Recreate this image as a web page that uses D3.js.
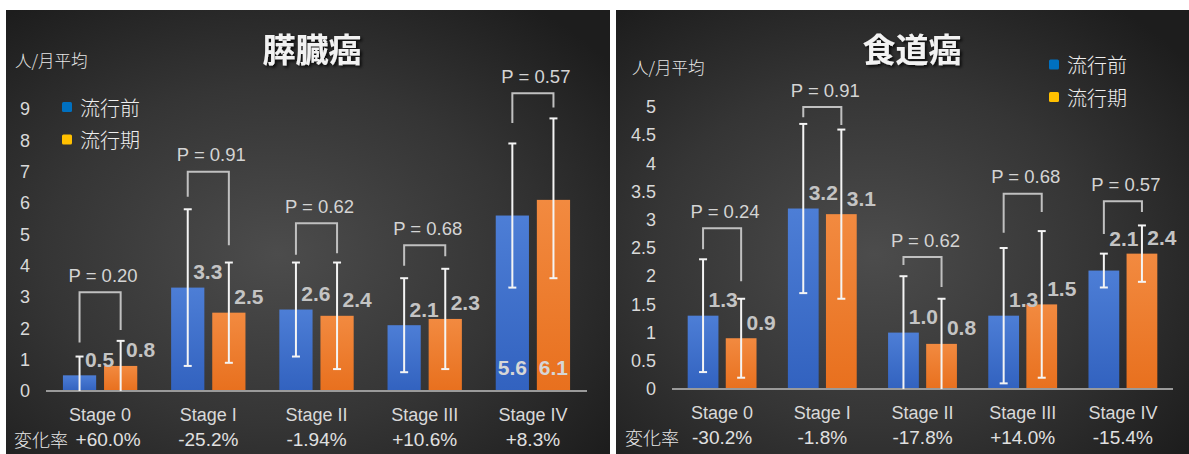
<!DOCTYPE html>
<html>
<head>
<meta charset="utf-8">
<script src="https://cdn.jsdelivr.net/npm/d3@7"></script>
<style>
  html, body { margin: 0; padding: 0; background: #ffffff; }
  svg { display: block; }
  .lat { font-family: "Liberation Sans", Arial, sans-serif; }
  .cjk { font-family: "Noto Sans CJK JP", "Noto Sans", sans-serif; }
</style>
</head>
<body>
<svg id="chart" width="1189" height="454"></svg>
<script>
// ---------- data ----------
const stages = ["Stage 0", "Stage I", "Stage II", "Stage III", "Stage IV"];
const seriesNames = ["流行前", "流行期"];
const legendColors = ["#0070C0", "#FFC000"];

// 膵臓癌
const pancTitle = "膵臓癌";
const pancBefore = [0.5, 3.3, 2.6, 2.1, 5.6];
const pancDuring = [0.8, 2.5, 2.4, 2.3, 6.1];
const pancBeforeLow = [0, 0.8, 1.1, 0.6, 3.3];
const pancBeforeHigh = [1.1, 5.8, 4.1, 3.6, 7.9];
const pancDuringLow = [0, 0.9, 0.7, 0.7, 3.6];
const pancDuringHigh = [1.6, 4.1, 4.1, 3.9, 8.7];
const pancP = ["0.20", "0.91", "0.62", "0.68", "0.57"];
const pancBracketTop = [3.15, 7.0, 5.35, 4.65, 9.5];
const pancBracketLeftEnd = [1.55, 6.2, 4.35, 4.0, 8.55];
const pancBracketRightEnd = [1.95, 4.65, 4.4, 4.3, 9.05];
const pancChange = ["+60.0%", "-25.2%", "-1.94%", "+10.6%", "+8.3%"];
const pancLabelInBase = [false, false, false, false, true];
const pancBeforeLabelLift = [0, 0, 0, 0, 0];
const pancTicks = [0, 1, 2, 3, 4, 5, 6, 7, 8, 9];

// 食道癌
const esoTitle = "食道癌";
const esoBefore = [1.3, 3.2, 1.0, 1.3, 2.1];
const esoDuring = [0.9, 3.1, 0.8, 1.5, 2.4];
const esoBeforeLow = [0.3, 1.7, 0, 0.1, 1.8];
const esoBeforeHigh = [2.3, 4.7, 2.0, 2.5, 2.4];
const esoDuringLow = [0.2, 1.6, 0, 0.2, 1.9];
const esoDuringHigh = [1.6, 4.6, 1.6, 2.8, 2.9];
const esoP = ["0.24", "0.91", "0.62", "0.68", "0.57"];
const esoBracketTop = [2.85, 5.0, 2.34, 3.46, 3.33];
const esoBracketLeftEnd = [2.48, 4.82, 2.2, 2.77, 2.75];
const esoBracketRightEnd = [1.91, 4.68, 1.81, 3.14, 3.14];
const esoChange = ["-30.2%", "-1.8%", "-17.8%", "+14.0%", "-15.4%"];
const esoLabelInBase = [false, false, false, false, false];
const esoBeforeLabelLift = [0, 0, 0, 0, 0.28];
const esoTicks = [0, 0.5, 1, 1.5, 2, 2.5, 3, 3.5, 4, 4.5, 5];

const unitLabel = "人/月平均";
const changeLabel = "変化率";

// ---------- layout ----------
const panels = [
  {
    title: pancTitle, before: pancBefore, during: pancDuring,
    bLow: pancBeforeLow, bHigh: pancBeforeHigh, dLow: pancDuringLow, dHigh: pancDuringHigh,
    p: pancP, brTop: pancBracketTop, brL: pancBracketLeftEnd, brR: pancBracketRightEnd,
    change: pancChange, inBase: pancLabelInBase, lift: pancBeforeLabelLift, ticks: pancTicks, yMax: 9,
    box: [6, 10, 604, 444], plotX: [46, 587], yRange: [391, 109],
    titleX: 312, titleY: 48, unitX: 15, unitY: 60,
    legX: 62, legY: 107, changeX: 14, firstChangeShift: 8
  },
  {
    title: esoTitle, before: esoBefore, during: esoDuring,
    bLow: esoBeforeLow, bHigh: esoBeforeHigh, dLow: esoDuringLow, dHigh: esoDuringHigh,
    p: esoP, brTop: esoBracketTop, brL: esoBracketLeftEnd, brR: esoBracketRightEnd,
    change: esoChange, inBase: esoLabelInBase, lift: esoBeforeLabelLift, ticks: esoTicks, yMax: 5,
    box: [616, 10, 573, 444], plotX: [672, 1173], yRange: [389, 107],
    titleX: 912, titleY: 48, unitX: 632, unitY: 67,
    legX: 1049, legY: 64.5, changeX: 625, firstChangeShift: 0
  }
];

const svg = d3.select("#chart");
const defs = svg.append("defs");

// backgrounds
const bg = defs.append("radialGradient").attr("id", "bgGrad")
  .attr("cx", "45%").attr("cy", "55%").attr("r", "70%");
bg.append("stop").attr("offset", "0%").attr("stop-color", "#4c4c4c");
bg.append("stop").attr("offset", "55%").attr("stop-color", "#353535");
bg.append("stop").attr("offset", "100%").attr("stop-color", "#1d1d1d");

const gB = defs.append("linearGradient").attr("id", "gBlue").attr("x1", 0).attr("y1", 0).attr("x2", 0).attr("y2", 1);
gB.append("stop").attr("offset", "0%").attr("stop-color", "#4d7ed6");
gB.append("stop").attr("offset", "100%").attr("stop-color", "#3262bf");
const gO = defs.append("linearGradient").attr("id", "gOrange").attr("x1", 0).attr("y1", 0).attr("x2", 0).attr("y2", 1);
gO.append("stop").attr("offset", "0%").attr("stop-color", "#f28a40");
gO.append("stop").attr("offset", "100%").attr("stop-color", "#e8701e");

const shadow = defs.append("filter").attr("id", "tshadow").attr("x", "-20%").attr("y", "-20%").attr("width", "140%").attr("height", "140%");
shadow.append("feDropShadow").attr("dx", 2).attr("dy", 2).attr("stdDeviation", 1.5)
  .attr("flood-color", "#000").attr("flood-opacity", 0.8);

const fills = ["url(#gBlue)", "url(#gOrange)"];

panels.forEach(P => {
  const g = svg.append("g");
  g.append("rect").attr("x", P.box[0]).attr("y", P.box[1]).attr("width", P.box[2]).attr("height", P.box[3])
    .attr("fill", "url(#bgGrad)");

  const x = d3.scaleBand().domain(stages).range(P.plotX).paddingInner(0).paddingOuter(0);
  const y = d3.scaleLinear().domain([0, P.yMax]).range(P.yRange);
  const bw = x.bandwidth();
  const barW = bw * 0.307, gap = bw * 0.073;
  const x1 = d3.scaleBand().domain([0, 1]).range([-(barW + gap / 2), barW + gap / 2]).paddingInner(gap / (barW + gap));
  const cx = s => x(s) + bw / 2;

  // title
  g.append("text").attr("class", "cjk").attr("x", P.titleX).attr("y", P.titleY)
    .attr("text-anchor", "middle").attr("dominant-baseline", "central")
    .attr("font-size", 33).attr("font-weight", 700).attr("fill", "#f2f2f2")
    .attr("filter", "url(#tshadow)").text(P.title);

  // unit label
  g.append("text").attr("class", "cjk").attr("x", P.unitX).attr("y", P.unitY)
    .attr("dominant-baseline", "central").attr("font-size", 16.5).attr("font-weight", 300)
    .attr("fill", "#e6e6e6").text(unitLabel);

  // y axis
  const yAxis = d3.axisLeft(y).tickValues(P.ticks).tickSize(0).tickPadding(16).tickFormat(d => String(d));
  const ga = g.append("g").attr("transform", `translate(${P.plotX[0]},0)`).call(yAxis);
  ga.select(".domain").remove();
  ga.selectAll("text").attr("class", "lat").attr("font-size", 18).attr("fill", "#d9d9d9");

  // bars
  const rows = stages.map((s, i) => ({
    s, i,
    vals: [P.before[i], P.during[i]],
    lows: [P.bLow[i], P.dLow[i]],
    highs: [P.bHigh[i], P.dHigh[i]],
    lift: [P.lift[i], 0]
  }));
  rows.forEach(r => {
    [0, 1].forEach(k => {
      const bx = cx(r.s) + x1(k);
      g.append("rect").attr("x", bx).attr("y", y(r.vals[k])).attr("width", x1.bandwidth())
        .attr("height", y(0) - y(r.vals[k])).attr("fill", fills[k]);
    });
  });

  // baseline
  g.append("line").attr("x1", P.plotX[0]).attr("x2", P.plotX[1]).attr("y1", y(0)).attr("y2", y(0))
    .attr("stroke", "#9a9a9a").attr("stroke-width", 2);

  // value labels
  rows.forEach(r => {
    [0, 1].forEach(k => {
      const bc = cx(r.s) + x1(k) + x1.bandwidth() / 2;
      const inside = P.inBase[r.i];
      g.append("text").attr("class", "lat")
        .attr("x", inside ? bc : bc + 20)
        .attr("y", inside ? y(0) - 24 : y(r.vals[k] + r.lift[k]) - 16)
        .attr("text-anchor", "middle").attr("dominant-baseline", "central")
        .attr("font-size", 21).attr("font-weight", 700)
        .attr("fill", inside ? "#d6d6d6" : "#c4c4c4")
        .text(r.vals[k].toFixed(1));
    });
  });

  // error bars
  rows.forEach(r => {
    [0, 1].forEach(k => {
      const bc = cx(r.s) + x1(k) + x1.bandwidth() / 2;
      const y1v = y(r.lows[k]), y2v = y(r.highs[k]);
      const eg = g.append("g").attr("stroke", "#f4f4f4").attr("stroke-width", 2);
      eg.append("line").attr("x1", bc).attr("x2", bc).attr("y1", y1v).attr("y2", y2v);
      eg.append("line").attr("x1", bc - 4).attr("x2", bc + 4).attr("y1", y2v).attr("y2", y2v);
      if (r.lows[k] > 0) eg.append("line").attr("x1", bc - 4).attr("x2", bc + 4).attr("y1", y1v).attr("y2", y1v);
    });
  });

  // brackets + P labels
  rows.forEach(r => {
    const lx = cx(r.s) + x1(0) + x1.bandwidth() / 2;
    const rx = cx(r.s) + x1(1) + x1.bandwidth() / 2;
    const top = y(P.brTop[r.i]);
    g.append("path")
      .attr("d", `M${lx},${y(P.brL[r.i])}V${top}H${rx}V${y(P.brR[r.i])}`)
      .attr("fill", "none").attr("stroke", "#c0c0c0").attr("stroke-width", 2);
    g.append("text").attr("class", "lat")
      .attr("x", (lx + rx) / 2 + 3).attr("y", top - 17)
      .attr("text-anchor", "middle").attr("dominant-baseline", "central")
      .attr("font-size", 18.5).attr("fill", "#d4d4d4")
      .text("P = " + P.p[r.i]);
  });

  // x axis labels
  const xAxis = d3.axisBottom(x).tickSize(0).tickPadding(17);
  const gx = g.append("g").attr("transform", `translate(0,${y(0)})`).call(xAxis);
  gx.select(".domain").remove();
  gx.selectAll("text").attr("class", "lat").attr("font-size", 18).attr("fill", "#d9d9d9");

  // change row
  const changeY = y(0) + 48;
  g.append("text").attr("class", "cjk").attr("x", P.changeX).attr("y", changeY)
    .attr("dominant-baseline", "central").attr("font-size", 18).attr("font-weight", 300)
    .attr("fill", "#e6e6e6").text(changeLabel);
  rows.forEach(r => {
    g.append("text").attr("class", "lat")
      .attr("x", cx(r.s) + (r.i === 0 ? P.firstChangeShift : 0)).attr("y", changeY)
      .attr("text-anchor", "middle").attr("dominant-baseline", "central")
      .attr("font-size", 19).attr("fill", "#e0e0e0").text(P.change[r.i]);
  });

  // legend
  seriesNames.forEach((n, k) => {
    const ly = P.legY + k * 32.5;
    g.append("rect").attr("x", P.legX).attr("y", ly - 5).attr("width", 10).attr("height", 10)
      .attr("rx", 1.5).attr("fill", legendColors[k]);
    g.append("text").attr("class", "cjk").attr("x", P.legX + 18).attr("y", ly)
      .attr("dominant-baseline", "central").attr("font-size", 20).attr("font-weight", 300)
      .attr("fill", "#eeeeee").text(n);
  });
});
</script>
</body>
</html>
